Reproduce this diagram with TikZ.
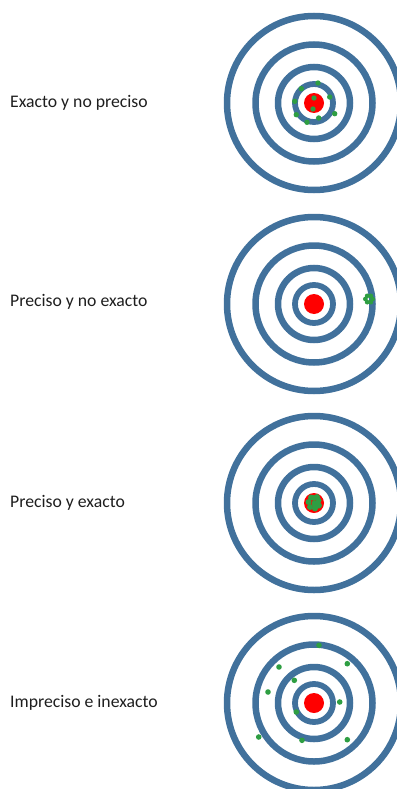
\documentclass[tikz,border=0pt]{standalone}
\usepackage{fontspec}
\usetikzlibrary{calc}
\setmainfont{Carlito}
\definecolor{ringblue}{RGB}{65,113,156}
\definecolor{hitgreen}{RGB}{46,158,66}
\definecolor{labelgray}{RGB}{30,30,30}
\begin{document}
\begin{tikzpicture}[x=1pt,y=-1pt,
  ring/.style={draw=ringblue,line width=6.5pt},
  bull/.style={fill=red},
  hit/.style={fill=hitgreen},
  lbl/.style={anchor=west,inner sep=0pt,text=labelgray,font=\fontsize{17.7}{20}\selectfont}]
\useasboundingbox (0,0) rectangle (396,789);
\newcommand{\target}[2]{%
  \begin{scope}[shift={(#1,#2)}]
    \draw[ring] (0,0) circle[radius=87];
    \draw[ring] (0,0) circle[radius=58.5];
    \draw[ring] (0,0) circle[radius=36];
    \draw[ring,line width=5.8pt] (0,0) circle[radius=19];
    \fill[bull] (0,0) circle[radius=10];
  \end{scope}}
% target 1
\target{314}{103}
\begin{scope}[shift={(314,103)}]
  \foreach \x/\y in {4/-20,-12.7/-14.3,15.7/-6,-19.3/-1.7,0/-5,-1/6,-17.7/11.7,20.7/10.7,4.7/15,-7/19.3}
    \fill[hit] (\x,\y) circle[radius=2.7];
\end{scope}
% target 2
\target{314}{304}
\begin{scope}[shift={(314,304)}]
  \foreach \a in {0,60,...,300}
    \fill[hit] ($(55,-5)+(\a:3.6)$) circle[radius=2.4];
\end{scope}
% target 3
\target{314}{503}
\begin{scope}[shift={(314,503)}]
  \foreach \x/\y in {0/-5,4.5/-2.5,5/2.5,1/5.5,-4/4,-5.5/-1,-3/-5.5,0.5/0.5,3/-6}
    \fill[hit] (\x,\y) circle[radius=3];
\end{scope}
% target 4
\target{314}{703}
\begin{scope}[shift={(314,703)}]
  \foreach \x/\y in {5/-57.7,33.3/-39.3,-35/-36,-19.7/-22.7,-46/-11,25.7/-1,-17.7/9,-55.3/34,-12/37.3,33.3/36.7}
    \fill[hit] (\x,\y) circle[radius=2.8];
\end{scope}
\node[lbl] (l1) at (10,103) {Exacto y no preciso};
\node[lbl] (l2) at (10,302) {Preciso y no exacto};
\node[lbl] (l3) at (10,503) {Preciso y exacto};
\node[lbl] (l4) at (10,703) {Impreciso e inexacto};
\end{tikzpicture}
\end{document}
